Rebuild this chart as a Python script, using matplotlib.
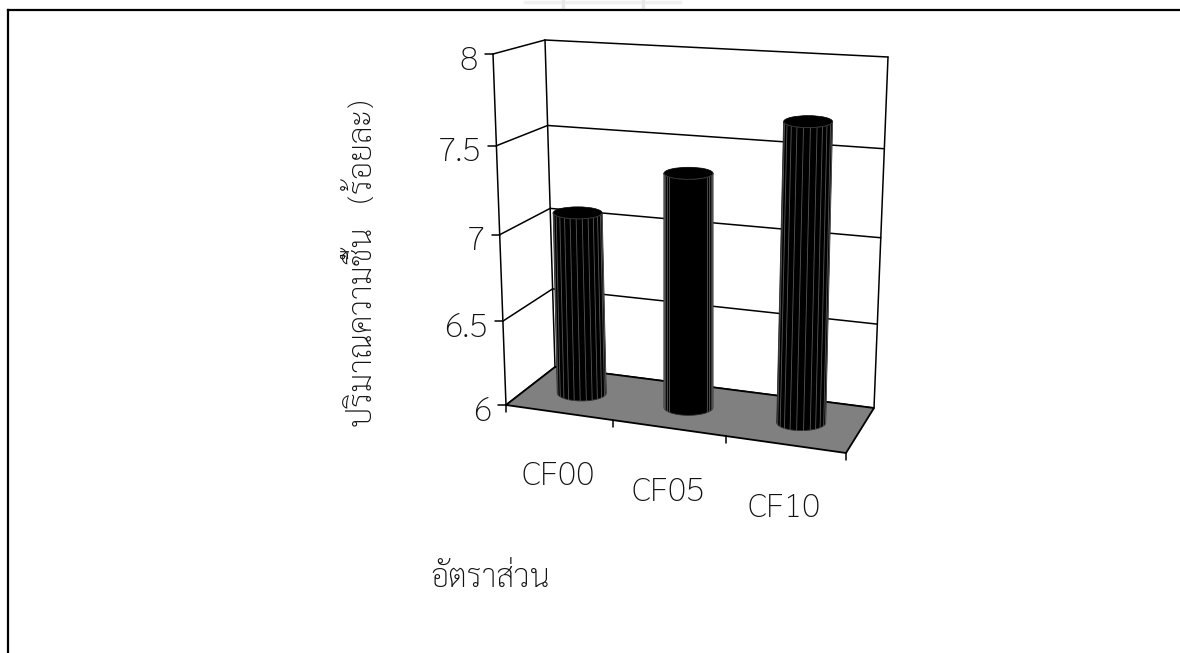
import numpy as np
import matplotlib
matplotlib.use('Agg')
from matplotlib import pyplot as plt
from matplotlib.patches import Polygon, Ellipse

# data
categories = ['CF00', 'CF05', 'CF10']
moisture = [7.08, 7.36, 7.69]
yticks = [6, 6.5, 7, 7.5, 8]
ytick_labels = ['6', '6.5', '7', '7.5', '8']
ylabel = 'ปริมาณความชื้น   (ร้อยละ)'
xlabel = 'อัตราส่วน'

plt.rcParams['font.family'] = ['Sarabun', 'Noto Sans Thai', 'Noto Sans', 'DejaVu Sans']
plt.rcParams['font.weight'] = 'light'
text_color = '#111111'
text_size = 24.5
thai_size = 23

ymin, ymax = yticks[0], yticks[-1]

# corners of the chart box in the picture (front/back, left/right)
floor = {'fl': (506, 405), 'fr': (846, 453), 'bl': (555, 367), 'br': (874, 408)}
roof = {'fl': (493, 54), 'fr': (857, 76), 'bl': (545, 40), 'br': (888, 57)}


def warp(t, b):
    # perspective foreshortening along one edge
    return t * (1 + b) / (1 + b * t)


def project(u, value, w):
    """u across the categories 0-1, value on the y scale, w depth 0 front - 1 back"""
    u = warp(u, -0.079)
    v = warp((value - ymin) / (ymax - ymin), -0.058)
    pts = []
    for c in (floor, roof):
        front = (1 - u) * np.array(c['fl']) + u * np.array(c['fr'])
        back = (1 - u) * np.array(c['bl']) + u * np.array(c['br'])
        pts.append((1 - w) * front + w * back)
    return (1 - v) * pts[0] + v * pts[1]


def line3d(ax, a, b, lw=1.1, z=2):
    ax.plot([a[0], b[0]], [a[1], b[1]], color='black', lw=lw, zorder=z, solid_capstyle='round')


def cylinder(ax, base, top, rx=24.5, ry=8, streaks=()):
    theta = np.linspace(0, np.pi, 40)
    # body: the visible front half of the tube
    bx = base[0] + rx * np.cos(theta)
    by = base[1] + ry * np.sin(theta)
    tx = top[0] + rx * np.cos(theta[::-1])
    ty = top[1] + (ry - 2) * np.sin(theta[::-1])
    ax.add_patch(Polygon(np.column_stack([np.r_[bx, tx], np.r_[by, ty]]), closed=True,
                         fc='black', ec='#2e2e2e', lw=0.6, zorder=5))
    for s in streaks:
        t = np.pi * s
        ax.plot([base[0] + rx * np.cos(t), top[0] + rx * np.cos(t)],
                [base[1] + ry * np.sin(t), top[1] + (ry - 2) * np.sin(t)],
                color='#585858', lw=0.6, zorder=6)
    # cap, rim only faintly lighter on its front side
    ax.add_patch(Ellipse(top, 2 * rx, 2 * (ry - 2), fc='black', ec='black', lw=0.5, zorder=7))
    ax.plot(top[0] + rx * np.cos(theta), top[1] + (ry - 2) * np.sin(theta), color='#3c3c3c', lw=0.6, zorder=8)


fig = plt.figure(figsize=(11.8, 6.53), dpi=100)
ax = fig.add_axes([0, 0, 1, 1])
ax.set_xlim(0, 1180)
ax.set_ylim(653, 0)
ax.axis('off')

# outer frame, right and bottom run off the page
ax.plot([8, 8], [10, 653], color='black', lw=1.6, zorder=1)
ax.plot([8, 1180], [10, 10], color='black', lw=1.6, zorder=1)

# faint smudge left at the top edge by a stamp
ax.plot([525, 680], [1.5, 1.5], color='#f0f0f0', lw=2.5, zorder=0)
ax.plot([563, 563], [0, 8], color='#e8e8e8', lw=2.5, zorder=0)
ax.plot([643, 643], [0, 8], color='#e8e8e8', lw=2.5, zorder=0)

# floor
ax.add_patch(Polygon([project(0, ymin, 0), project(1, ymin, 0), project(1, ymin, 1), project(0, ymin, 1)],
                     closed=True, fc='#808080', ec='black', lw=1.3, zorder=3))

# walls and gridlines
for t in yticks:
    line3d(ax, project(0, t, 0), project(0, t, 1))
    line3d(ax, project(0, t, 1), project(1, t, 1))
    a = project(0, t, 0)
    line3d(ax, a, (a[0] - 8, a[1]))
line3d(ax, project(0, ymin, 0), project(0, ymax, 0))
line3d(ax, project(0, ymin, 1), project(0, ymax, 1))
line3d(ax, project(1, ymin, 1), project(1, ymax, 1))

for t, label in zip(yticks, ytick_labels):
    a = project(0, t, 0)
    ax.text(a[0] - 15, a[1] + 7, label, fontsize=text_size, color=text_color, ha='right', va='center')

# category ticks along the front floor edge
for i in range(len(categories) + 1):
    a = project(i / len(categories), ymin, 0)
    line3d(ax, a, (a[0], a[1] + 7), z=4)

# bars
streak_sets = [
    (0.05, 0.12, 0.2, 0.28, 0.36, 0.44, 0.52, 0.6, 0.68, 0.76, 0.84, 0.92),
    (0.03, 0.07, 0.12, 0.17, 0.22, 0.78, 0.83, 0.88, 0.93, 0.97),
    (0.05, 0.13, 0.22, 0.3, 0.38, 0.47, 0.56, 0.65, 0.74, 0.83, 0.91),
]
for i, val in enumerate(moisture):
    u = (i + 0.5) / len(categories)
    cylinder(ax, project(u, ymin, 0.5), project(u, val, 0.5), streaks=streak_sets[i])
    a = project(u, ymin, 0)
    ax.text(a[0] - 1, a[1] + 64, categories[i], fontsize=text_size, color=text_color, ha='center', va='center')

ax.text(363, 263, ylabel, fontsize=thai_size, color=text_color, rotation=90, ha='center', va='center')
ax.text(490, 587, xlabel, fontsize=thai_size, color=text_color, ha='center', va='baseline')

fig.savefig('out.png', dpi=100)
